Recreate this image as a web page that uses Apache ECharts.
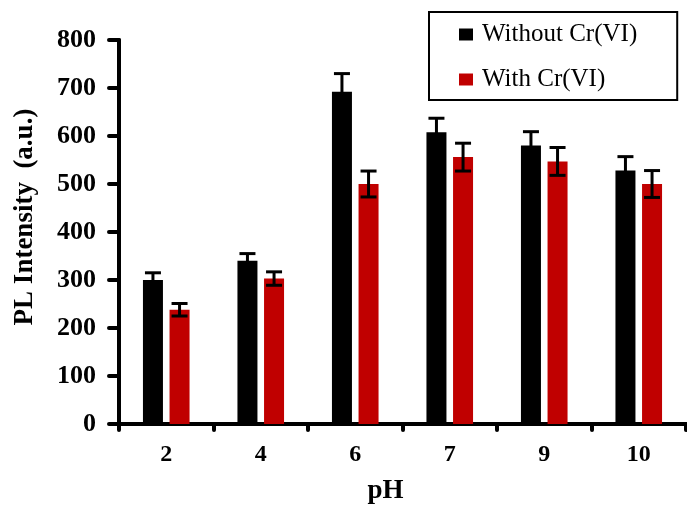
<!DOCTYPE html>
<html><head><meta charset="utf-8">
<script src="https://cdn.jsdelivr.net/npm/echarts@6/dist/echarts.min.js"></script>
<style>html,body{margin:0;padding:0;background:#fff}#c{width:687px;height:510px}</style>
</head><body><div id="c"></div>
<script>
var categories = ['2', '4', '6', '7', '9', '10'];
var withoutCr = [300, 340, 692, 608, 580, 528];
var withoutErr = [15, 15, 38, 29, 29, 29];
var withCr = [238, 303, 500, 556, 547, 500];
var withErr = [13, 14, 27, 29, 29, 28];
var yTicks = [0, 100, 200, 300, 400, 500, 600, 700, 800];

var FONT = '"Liberation Serif", "Times New Roman", serif';
var chart = echarts.init(document.getElementById('c'), null, {renderer: 'canvas'});

function errSeries(vals, errs, offset) {
  return {
    type: 'custom',
    z: 5,
    silent: true,
    data: vals.map(function (v, i) { return [i, v, errs[i]]; }),
    renderItem: function (params, api) {
      var i = api.value(0), v = api.value(1), e = api.value(2);
      var hi = api.coord([i, v + e]);
      var lo = api.coord([i, v - e]);
      var x = hi[0] + offset;
      var hw = 8;
      var st = {stroke: '#000', lineWidth: 3};
      return {type: 'group', children: [
        {type: 'line', shape: {x1: x, y1: hi[1], x2: x, y2: lo[1]}, style: st},
        {type: 'line', shape: {x1: x - hw, y1: hi[1], x2: x + hw, y2: hi[1]}, style: st},
        {type: 'line', shape: {x1: x - hw, y1: lo[1], x2: x + hw, y2: lo[1]}, style: st}
      ]};
    }
  };
}

chart.setOption({
  animation: false,
  grid: {left: 119, right: 1, top: 40, bottom: 83, containLabel: false},
  legend: {
    show: true,
    data: ['Without Cr(VI)', 'With Cr(VI)'],
    orient: 'vertical',
    left: 429, top: 12,
    padding: [10, 40, 8, 30],
    itemGap: 20,
    itemWidth: 14, itemHeight: 12,
    icon: 'rect',
    borderColor: '#000', borderWidth: 2,
    backgroundColor: '#fff',
    textStyle: {fontFamily: FONT, fontSize: 25, color: '#000', padding: [0, 0, 0, 4]}
  },
  xAxis: {
    type: 'category',
    data: categories,
    name: 'pH',
    nameLocation: 'middle',
    nameGap: 54,
    nameTextStyle: {fontFamily: FONT, fontSize: 27, fontWeight: 'bold', color: '#000', padding: [0, 34, 0, 0]},
    axisLine: {lineStyle: {color: '#000', width: 4}},
    axisTick: {show: true, alignWithLabel: false, length: 6, lineStyle: {color: '#000', width: 4, cap: 'round'}},
    axisLabel: {fontFamily: FONT, fontSize: 24, fontWeight: 'bold', color: '#000', margin: 19},
    splitLine: {show: false}
  },
  yAxis: {
    type: 'value',
    min: 0, max: 800, interval: 100,
    name: 'PL Intensity  (a.u.)',
    nameLocation: 'middle',
    nameGap: 80,
    nameRotate: 90,
    nameTextStyle: {fontFamily: FONT, fontSize: 27, fontWeight: 'bold', color: '#000', padding: [0, 0, 0, 30]},
    axisLine: {show: true, lineStyle: {color: '#000', width: 4}},
    axisTick: {show: true, length: 10, lineStyle: {color: '#000', width: 4, cap: 'round'}},
    axisLabel: {fontFamily: FONT, fontSize: 26, fontWeight: 'bold', color: '#000', margin: 23,
      formatter: function (v) { return yTicks.indexOf(v) >= 0 ? String(v) : ''; }},
    splitLine: {show: false}
  },
  series: [
    {name: 'Without Cr(VI)', type: 'bar', data: withoutCr, barWidth: 20, barGap: '33%',
     itemStyle: {color: '#000'}},
    {name: 'With Cr(VI)', type: 'bar', data: withCr, barWidth: 20, barGap: '33%',
     itemStyle: {color: '#c00000'}},
    errSeries(withoutCr, withoutErr, -13.3),
    errSeries(withCr, withErr, 13.3)
  ]
});
</script></body></html>
